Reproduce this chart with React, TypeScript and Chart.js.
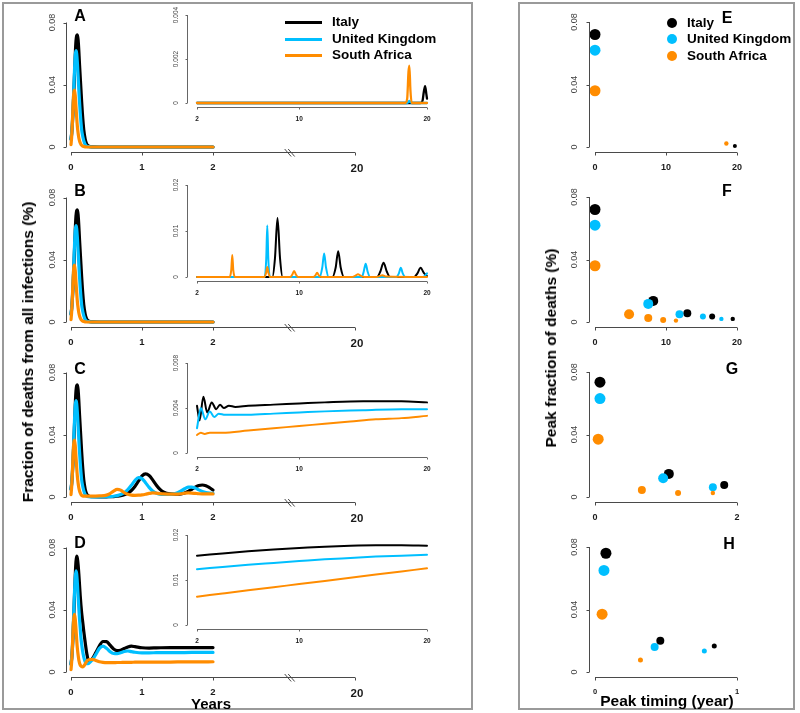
import React, { useEffect, useRef } from 'react';
import { Chart, registerables } from 'chart.js';

Chart.register(...registerables);

const FONT = '"Liberation Sans", Arial, Helvetica, sans-serif';

// ---------- categories / colours ----------
const COUNTRIES = ['Italy', 'United Kingdom', 'South Africa'];
const COLORS = ['#000000', '#00BFFF', '#FF8C00'];

// ---------- tick labels ----------
const MAIN_X_TICKS = [0, 1, 2];
const MAIN_Y_TICKS = [0, 0.04, 0.08];
const MAIN_FAR_LABEL = '20';
const INSET_X_TICKS = [2, 10, 20];
const INSET_A_Y_TICKS = [0, 0.002, 0.004];
const INSET_B_Y_TICKS = [0, 0.01, 0.02];
const INSET_C_Y_TICKS = [0, 0.004, 0.008];
const INSET_D_Y_TICKS = [0, 0.01, 0.02];
const PEAK_Y_TICKS = [0, 0.04, 0.08];
const PEAK_X_TICKS_EF = [0, 10, 20];
const PEAK_X_TICKS_G = [0, 2];
const PEAK_X_TICKS_H = [0, 1];

// ---------- main panels (years 0-2) ----------
const MAIN_AB_X = [0, 0.01, 0.02, 0.03, 0.04, 0.05, 0.06, 0.07, 0.08, 0.09, 0.1, 0.11, 0.12, 0.13, 0.14, 0.15, 0.16, 0.18, 0.2, 0.22, 0.25, 0.3, 0.4, 2];
const MAIN_AB_ITALY = [0.005, 0.009, 0.015, 0.024, 0.035, 0.047, 0.059, 0.068, 0.0715, 0.072, 0.069, 0.062, 0.053, 0.045, 0.037, 0.029, 0.022, 0.011, 0.005, 0.002, 0.0006, 0.0001, 0, 0];
const MAIN_AB_UK = [0.005, 0.009, 0.016, 0.026, 0.038, 0.05, 0.059, 0.062, 0.06, 0.054, 0.046, 0.037, 0.029, 0.022, 0.016, 0.011, 0.008, 0.004, 0.0016, 0.0006, 0.0002, 0, 0, 0];
const MAIN_AB_SA = [0.0015, 0.007, 0.017, 0.028, 0.035, 0.0365, 0.033, 0.026, 0.019, 0.013, 0.009, 0.006, 0.004, 0.0026, 0.0017, 0.0011, 0.0007, 0.0003, 0.0001, 0, 0, 0, 0, 0];

const MAIN_C_X = [0, 0.01, 0.02, 0.03, 0.04, 0.05, 0.06, 0.07, 0.08, 0.09, 0.1, 0.11, 0.12, 0.13, 0.14, 0.15, 0.16, 0.18, 0.2, 0.22, 0.25,
  0.3, 0.4, 0.5, 0.55, 0.6, 0.65, 0.7, 0.75, 0.8, 0.85, 0.9, 0.95, 1, 1.05, 1.1, 1.15, 1.2, 1.25, 1.3, 1.4, 1.5, 1.55, 1.6, 1.65, 1.7, 1.75, 1.8, 1.85, 1.9, 1.95, 2];
const MAIN_C_ITALY = [0.005, 0.009, 0.015, 0.024, 0.035, 0.047, 0.059, 0.068, 0.0715, 0.072, 0.069, 0.062, 0.053, 0.045, 0.037, 0.029, 0.022, 0.011, 0.005, 0.002, 0.0006,
  0.0002, 0.0001, 0.0001, 0.0002, 0.0003, 0.0005, 0.0008, 0.0014, 0.0025, 0.0042, 0.0068, 0.0102, 0.0135, 0.0148, 0.0138, 0.011, 0.0077, 0.005, 0.0033, 0.002, 0.0018, 0.002, 0.0026, 0.0036, 0.0049, 0.0063, 0.0074, 0.0077, 0.0072, 0.006, 0.0045];
const MAIN_C_UK = [0.005, 0.009, 0.016, 0.026, 0.038, 0.05, 0.059, 0.062, 0.06, 0.054, 0.046, 0.037, 0.029, 0.022, 0.016, 0.011, 0.008, 0.004, 0.0016, 0.0006, 0.0002,
  0.0001, 0.0001, 0.0002, 0.0003, 0.0005, 0.0009, 0.0016, 0.0028, 0.0047, 0.0075, 0.0106, 0.0125, 0.0118, 0.0092, 0.0062, 0.0039, 0.0025, 0.0018, 0.0016, 0.0017, 0.0028, 0.0039, 0.0053, 0.0063, 0.0064, 0.0057, 0.0046, 0.0036, 0.0029, 0.0025, 0.0023];
const MAIN_C_SA = [0.0015, 0.007, 0.017, 0.028, 0.035, 0.0365, 0.033, 0.026, 0.019, 0.013, 0.009, 0.006, 0.004, 0.0026, 0.0017, 0.0011, 0.0008, 0.0005, 0.0005, 0.0005, 0.0005,
  0.0005, 0.0007, 0.0012, 0.0022, 0.0038, 0.0049, 0.0044, 0.0028, 0.0017, 0.0012, 0.0011, 0.0012, 0.0014, 0.0018, 0.0023, 0.0026, 0.0025, 0.0022, 0.002, 0.0018, 0.0019, 0.0021, 0.0024, 0.0026, 0.0025, 0.0023, 0.0021, 0.002, 0.002, 0.002, 0.002];

const MAIN_D_X = [0, 0.01, 0.02, 0.03, 0.04, 0.05, 0.06, 0.07, 0.08, 0.09, 0.1, 0.11, 0.12, 0.13, 0.14, 0.15, 0.16, 0.18, 0.2, 0.22, 0.25,
  0.3, 0.35, 0.4, 0.45, 0.5, 0.55, 0.6, 0.65, 0.7, 0.75, 0.8, 0.85, 0.9, 1, 1.1, 1.2, 1.4, 1.6, 1.8, 2];
const MAIN_D_ITALY = [0.005, 0.009, 0.015, 0.025, 0.037, 0.05, 0.062, 0.071, 0.0745, 0.073, 0.069, 0.063, 0.056, 0.049, 0.043, 0.038, 0.034, 0.026, 0.019, 0.0125, 0.0068,
  0.0085, 0.0125, 0.0168, 0.0196, 0.0195, 0.0172, 0.0148, 0.0137, 0.014, 0.0151, 0.0161, 0.0166, 0.0163, 0.0156, 0.0154, 0.0155, 0.0157, 0.0157, 0.0157, 0.0157];
const MAIN_D_UK = [0.005, 0.009, 0.016, 0.027, 0.04, 0.052, 0.061, 0.065, 0.063, 0.057, 0.049, 0.041, 0.034, 0.028, 0.022, 0.018, 0.0145, 0.0095, 0.0065, 0.0053, 0.0056,
  0.0078, 0.0113, 0.0152, 0.0166, 0.0152, 0.0131, 0.0119, 0.0118, 0.0124, 0.0132, 0.0135, 0.0131, 0.0127, 0.0123, 0.0123, 0.0124, 0.0125, 0.0125, 0.0126, 0.0126];
const MAIN_D_SA = [0.0015, 0.007, 0.017, 0.028, 0.035, 0.037, 0.034, 0.028, 0.021, 0.015, 0.011, 0.0078, 0.0058, 0.0045, 0.0038, 0.0034, 0.0033, 0.0038, 0.0052, 0.0068, 0.0079,
  0.0081, 0.0074, 0.0066, 0.0062, 0.006, 0.006, 0.006, 0.0061, 0.0061, 0.0062, 0.0062, 0.0062, 0.0063, 0.0063, 0.0063, 0.0064, 0.0064, 0.0065, 0.0065, 0.0066];

// ---------- insets (years 2-20) ----------
const INSET_A_X = [2, 18.3, 18.45, 18.55, 18.62, 18.7, 18.8, 19.5, 19.65, 19.75, 19.85, 19.95, 20];
const INSET_A_ITALY = [0, 0, 0, 0, 0, 0, 0, 0, 0.0001, 0.0005, 0.00077, 0.0004, 0.0002];
const INSET_A_UK = [0, 0, 0, 0.00005, 0.0001, 0.00005, 0, 0, 0, 0, 0, 0, 0];
const INSET_A_SA = [0, 0, 0.0002, 0.0014, 0.0017, 0.0006, 0, 0, 0, 0, 0, 0, 0];

const INSET_B_ITALY_X = [2, 7.9, 8.1, 8.3, 8.5, 8.7, 12.6, 12.85, 13.05, 13.25, 13.5, 16.1, 16.35, 16.6, 16.85, 17.1, 19.0, 19.25, 19.5, 19.75, 20];
const INSET_B_ITALY = [0, 0, 0.004, 0.0128, 0.004, 0, 0, 0.002, 0.0056, 0.002, 0, 0, 0.0012, 0.0031, 0.0012, 0, 0, 0.0008, 0.002, 0.0009, 0.0002];
const INSET_B_UK_X = [2, 7.3, 7.42, 7.5, 7.58, 7.7, 11.6, 11.8, 11.95, 12.1, 12.3, 14.9, 15.05, 15.2, 15.35, 15.55, 17.6, 17.8, 17.95, 18.1, 18.3, 19.7, 19.85, 20];
const INSET_B_UK = [0, 0, 0.004, 0.0112, 0.004, 0, 0, 0.002, 0.0051, 0.002, 0, 0, 0.0012, 0.0029, 0.0012, 0, 0, 0.0008, 0.002, 0.0008, 0, 0, 0.0003, 0.0008];
const INSET_B_SA_X = [2, 4.55, 4.68, 4.76, 4.84, 4.97, 7.25, 7.4, 7.5, 7.6, 7.75, 9.3, 9.45, 9.6, 9.75, 9.9, 11.1, 11.25, 11.4, 11.55, 11.7, 14.1, 14.4, 14.6, 14.8, 15.1, 16.0, 16.3, 16.5, 16.8, 20];
const INSET_B_SA = [0, 0, 0.0015, 0.0048, 0.0015, 0, 0, 0.0008, 0.0022, 0.0008, 0, 0, 0.0005, 0.0013, 0.0005, 0, 0, 0.0003, 0.0009, 0.0003, 0, 0, 0.0003, 0.0006, 0.0003, 0, 0, 0.0002, 0.0004, 0.0001, 0];

const INSET_C_ITALY_X = [2, 2.2, 2.5, 2.8, 3.15, 3.5, 3.8, 4.1, 4.5, 5, 6, 8, 10, 12, 15, 18, 20];
const INSET_C_ITALY = [0.0042, 0.0029, 0.005, 0.0036, 0.0045, 0.0039, 0.0043, 0.004, 0.0042, 0.0041, 0.0042, 0.0043, 0.0044, 0.0045, 0.0046, 0.0046, 0.0045];
const INSET_C_UK_X = [2, 2.3, 2.65, 3.0, 3.35, 3.7, 4.2, 5, 6, 8, 10, 12, 15, 18, 20];
const INSET_C_UK = [0.0022, 0.004, 0.003, 0.0037, 0.0032, 0.0035, 0.0034, 0.0034, 0.0034, 0.0035, 0.0036, 0.0037, 0.0038, 0.0039, 0.0039];
const INSET_C_SA_X = [2, 2.3, 2.6, 3, 4, 6, 8, 10, 12, 14, 16, 18, 20];
const INSET_C_SA = [0.0016, 0.0018, 0.0017, 0.0018, 0.0018, 0.002, 0.0022, 0.0024, 0.0026, 0.0028, 0.003, 0.0031, 0.0033];

const INSET_D_X = [2, 4, 6, 8, 10, 12, 14, 16, 18, 20];
const INSET_D_ITALY = [0.0154, 0.0159, 0.0164, 0.0168, 0.0171, 0.0174, 0.0176, 0.0177, 0.0177, 0.0176];
const INSET_D_UK = [0.0124, 0.0129, 0.0134, 0.0138, 0.0142, 0.0146, 0.0149, 0.0152, 0.0154, 0.0156];
const INSET_D_SA = [0.0063, 0.007, 0.0077, 0.0084, 0.0091, 0.0098, 0.0105, 0.0112, 0.0119, 0.0126];

// ---------- peak scatter panels (timing, peak fraction, marker radius) ----------
const E_ITALY_X = [0, 19.7];
const E_ITALY_Y = [0.072, 0.0006];
const E_ITALY_R = [5.5, 2];
const E_UK_X = [0];
const E_UK_Y = [0.062];
const E_UK_R = [5.5];
const E_SA_X = [0, 18.5];
const E_SA_Y = [0.036, 0.0022];
const E_SA_R = [5.5, 2.2];

const F_ITALY_X = [0, 8.2, 13.0, 16.5, 19.4];
const F_ITALY_Y = [0.072, 0.0135, 0.0056, 0.0035, 0.002];
const F_ITALY_R = [5.5, 5, 4, 3, 2.2];
const F_UK_X = [0, 7.5, 11.9, 15.2, 17.8];
const F_UK_Y = [0.062, 0.0116, 0.005, 0.0036, 0.002];
const F_UK_R = [5.5, 5, 4, 3, 2.2];
const F_SA_X = [0, 4.8, 7.5, 9.6, 11.4];
const F_SA_Y = [0.036, 0.005, 0.0025, 0.0013, 0.0009];
const F_SA_R = [5.5, 5, 4, 3, 2.2];

const G_ITALY_X = [0.07, 1.04, 1.82];
const G_ITALY_Y = [0.0735, 0.0148, 0.0077];
const G_ITALY_R = [5.5, 5, 4];
const G_UK_X = [0.07, 0.96, 1.66];
const G_UK_Y = [0.063, 0.012, 0.0063];
const G_UK_R = [5.5, 5, 4];
const G_SA_X = [0.045, 0.66, 1.17, 1.66];
const G_SA_Y = [0.037, 0.0045, 0.0026, 0.0026];
const G_SA_R = [5.5, 4, 3, 2.2];

const H_ITALY_X = [0.077, 0.46, 0.84];
const H_ITALY_Y = [0.076, 0.02, 0.0167];
const H_ITALY_R = [5.5, 4, 2.5];
const H_UK_X = [0.063, 0.42, 0.77];
const H_UK_Y = [0.065, 0.016, 0.0135];
const H_UK_R = [5.5, 4, 2.5];
const H_SA_X = [0.05, 0.32];
const H_SA_Y = [0.037, 0.0077];
const H_SA_R = [5.5, 2.5];

// ---------- helpers ----------
type Box = { x: number; y: number; w: number; h: number };
type Area = { l: number; r: number; t: number; b: number };

const fmt = (v: number) => String(v);

function axesPlugin(o: any) {
  return {
    id: 'rAxes',
    afterDatasetsDraw(chart: any) {
      const { ctx, chartArea: ca } = chart;
      const xs = chart.scales.x;
      const ys = chart.scales.y;
      ctx.save();
      ctx.strokeStyle = o.color;
      ctx.lineWidth = o.width;
      const ay = Math.round(ca.bottom + o.xGap) + 0.5;
      const ax = Math.round(ca.left - o.yGap) + 0.5;
      ctx.beginPath();
      ctx.moveTo(xs.getPixelForValue(o.xFrom), ay);
      ctx.lineTo(xs.getPixelForValue(o.xTo), ay);
      const allX = o.extra ? [...o.xTicks, o.extra.v] : o.xTicks;
      allX.forEach((v: number) => {
        const p = Math.round(xs.getPixelForValue(v)) + 0.5;
        ctx.moveTo(p, ay);
        ctx.lineTo(p, ay + o.tick);
      });
      ctx.moveTo(ax, ys.getPixelForValue(o.yTicks[0]));
      ctx.lineTo(ax, ys.getPixelForValue(o.yTicks[o.yTicks.length - 1]));
      o.yTicks.forEach((v: number) => {
        const p = Math.round(ys.getPixelForValue(v)) + 0.5;
        ctx.moveTo(ax, p);
        ctx.lineTo(ax - o.tick, p);
      });
      ctx.stroke();
      if (o.breakAt !== undefined) {
        const bp = xs.getPixelForValue(o.breakAt);
        ctx.beginPath();
        ctx.moveTo(bp - 5, ay - 3.5);
        ctx.lineTo(bp + 1.5, ay + 4);
        ctx.moveTo(bp - 1.5, ay - 3.5);
        ctx.lineTo(bp + 5, ay + 4);
        ctx.stroke();
      }
      ctx.textAlign = 'center';
      ctx.textBaseline = 'alphabetic';
      ctx.fillStyle = o.xLabelColor;
      ctx.font = o.xFont;
      o.xTicks.forEach((v: number, i: number) => {
        ctx.fillText(o.xLabels[i], xs.getPixelForValue(v), ay + o.xBase);
      });
      if (o.extra) {
        ctx.font = o.extra.font;
        ctx.fillText(o.extra.label, xs.getPixelForValue(o.extra.v) + 2, ay + o.extra.base);
      }
      ctx.fillStyle = o.yLabelColor;
      ctx.font = o.yFont;
      o.yTicks.forEach((v: number, i: number) => {
        ctx.save();
        ctx.translate(ax - o.yBase, ys.getPixelForValue(v));
        ctx.rotate(-Math.PI / 2);
        ctx.fillText(o.yLabels[i], 0, 0);
        ctx.restore();
      });
      ctx.restore();
    },
  };
}

function lineDs(i: number, xs: number[], ys: number[], width: number) {
  return {
    label: COUNTRIES[i],
    data: xs.map((x, k) => ({ x, y: ys[k] })),
    borderColor: COLORS[i],
    backgroundColor: COLORS[i],
    borderWidth: width,
    pointRadius: 0,
    cubicInterpolationMode: 'monotone',
    borderJoinStyle: 'round',
    borderCapStyle: 'round',
    fill: false,
    clip: false,
    order: 3 - i,
  };
}

function dotDs(i: number, xs: number[], ys: number[], rs: number[]) {
  return {
    label: COUNTRIES[i],
    data: xs.map((x, k) => ({ x, y: ys[k] })),
    pointRadius: rs,
    pointBackgroundColor: COLORS[i],
    pointBorderWidth: 0,
    borderColor: COLORS[i],
    backgroundColor: COLORS[i],
    showLine: false,
    clip: false,
    order: 3 - i,
  };
}

function buildConfig(type: string, datasets: any[], box: Box, area: Area, xr: number[], yr: number[], axes: any) {
  return {
    type,
    data: { datasets },
    options: {
      responsive: false,
      animation: false,
      events: [],
      layout: {
        padding: { left: area.l - box.x, right: box.x + box.w - area.r, top: area.t - box.y, bottom: box.y + box.h - area.b },
      },
      scales: {
        x: { type: 'linear', min: xr[0], max: xr[1], display: false },
        y: { type: 'linear', min: yr[0], max: yr[1], display: false },
      },
      plugins: { legend: { display: false }, tooltip: { enabled: false } },
    },
    plugins: [axesPlugin(axes)],
  };
}

function ChartBox({ box, config }: { box: Box; config: () => any }) {
  const ref = useRef<HTMLCanvasElement>(null);
  useEffect(() => {
    const chart = new Chart(ref.current as HTMLCanvasElement, config() as any);
    return () => chart.destroy();
  }, []);
  return (
    <canvas
      ref={ref}
      width={box.w}
      height={box.h}
      style={{ position: 'absolute', left: box.x, top: box.y, width: box.w, height: box.h }}
    />
  );
}

// ---------- layout ----------
const ROW_TOP = [0, 175, 350, 525];
const LETTERS_LEFT = ['A', 'B', 'C', 'D'];
const LETTERS_RIGHT = ['E', 'F', 'G', 'H'];
const LETTER_LEFT_Y = [16, 191, 369, 543];
const LETTER_RIGHT_POS = [[727, 18], [727, 191], [732, 369], [729, 544]];
const INSET_TB = [[15, 103], [10, 102], [13, 103], [10, 100]];

const AXIS_COLOR = '#4a4a4a';

function mainPanel(row: number, xs: number[], it: number[], uk: number[], sa: number[]) {
  const T = ROW_TOP[row];
  const box = { x: 8, y: T, w: 460, h: 175 };
  const area = { l: 71, r: 213, t: T + 22.5, b: T + 147 };
  const axes = {
    color: AXIS_COLOR, width: 1, xLabelColor: '#1a1a1a', yLabelColor: '#444', tick: 3,
    xFrom: 0, xTo: 4, xGap: 5, xTicks: MAIN_X_TICKS, xLabels: MAIN_X_TICKS.map(fmt),
    xFont: `bold 9.5px ${FONT}`, xBase: 17,
    extra: { v: 4, label: MAIN_FAR_LABEL, font: `bold 11.5px ${FONT}`, base: 19 },
    breakAt: 3.08,
    yTicks: MAIN_Y_TICKS, yLabels: MAIN_Y_TICKS.map(fmt), yFont: `9px ${FONT}`, yGap: 5, yBase: 12,
  };
  return () => buildConfig('line', [lineDs(0, xs, it, 3.2), lineDs(1, xs, uk, 3.2), lineDs(2, xs, sa, 3.2)], box, area, [0, 2], [0, 0.08], axes);
}

function insetPanel(row: number, yTicks: number[], series: number[][][], width: number) {
  const T = ROW_TOP[row];
  const [it, ib] = INSET_TB[row];
  const box = { x: 160, y: T, w: 300, h: 135 };
  const area = { l: 197, r: 427, t: T + it, b: T + ib };
  const axes = {
    color: '#666', width: 1, xLabelColor: '#1a1a1a', yLabelColor: '#444', tick: 2,
    xFrom: 2, xTo: 20, xGap: 4, xTicks: INSET_X_TICKS, xLabels: INSET_X_TICKS.map(fmt),
    xFont: `bold 6.5px ${FONT}`, xBase: 13,
    yTicks, yLabels: yTicks.map(fmt), yFont: `6.5px ${FONT}`, yGap: 10, yBase: 10,
  };
  const ds = series.map((s, i) => lineDs(i, s[0], s[1], width));
  return () => buildConfig('line', ds, box, area, [2, 20], [0, yTicks[yTicks.length - 1]], axes);
}

function peakPanel(row: number, xTicks: number[], series: number[][][], small: boolean) {
  const T = ROW_TOP[row];
  const box = { x: 530, y: T, w: 262, h: 175 };
  const area = { l: 595, r: 737, t: T + 22, b: T + 147 };
  const axes = {
    color: AXIS_COLOR, width: 1, xLabelColor: '#1a1a1a', yLabelColor: '#444', tick: 3,
    xFrom: xTicks[0], xTo: xTicks[xTicks.length - 1], xGap: 5, xTicks, xLabels: xTicks.map(fmt),
    xFont: small ? `bold 7.5px ${FONT}` : `bold 9px ${FONT}`, xBase: small ? 16 : 17,
    yTicks: PEAK_Y_TICKS, yLabels: PEAK_Y_TICKS.map(fmt), yFont: `9px ${FONT}`, yGap: 6, yBase: 13,
  };
  const ds = series.map((s, i) => dotDs(i, s[0], s[1], s[2]));
  return () => buildConfig('scatter', ds, box, area, [xTicks[0], xTicks[xTicks.length - 1]], [0, 0.08], axes);
}

const abs = (x: number, y: number, extra: any = {}) => ({
  position: 'absolute' as const, left: x, top: y, transform: 'translate(-50%, -50%)', whiteSpace: 'nowrap' as const, lineHeight: 1, ...extra,
});

export default function App() {
  const mains = [
    mainPanel(0, MAIN_AB_X, MAIN_AB_ITALY, MAIN_AB_UK, MAIN_AB_SA),
    mainPanel(1, MAIN_AB_X, MAIN_AB_ITALY, MAIN_AB_UK, MAIN_AB_SA),
    mainPanel(2, MAIN_C_X, MAIN_C_ITALY, MAIN_C_UK, MAIN_C_SA),
    mainPanel(3, MAIN_D_X, MAIN_D_ITALY, MAIN_D_UK, MAIN_D_SA),
  ];
  const insets = [
    insetPanel(0, INSET_A_Y_TICKS, [[INSET_A_X, INSET_A_ITALY], [INSET_A_X, INSET_A_UK], [INSET_A_X, INSET_A_SA]], 2.3),
    insetPanel(1, INSET_B_Y_TICKS, [[INSET_B_ITALY_X, INSET_B_ITALY], [INSET_B_UK_X, INSET_B_UK], [INSET_B_SA_X, INSET_B_SA]], 2),
    insetPanel(2, INSET_C_Y_TICKS, [[INSET_C_ITALY_X, INSET_C_ITALY], [INSET_C_UK_X, INSET_C_UK], [INSET_C_SA_X, INSET_C_SA]], 2),
    insetPanel(3, INSET_D_Y_TICKS, [[INSET_D_X, INSET_D_ITALY], [INSET_D_X, INSET_D_UK], [INSET_D_X, INSET_D_SA]], 2),
  ];
  const peaks = [
    peakPanel(0, PEAK_X_TICKS_EF, [[E_ITALY_X, E_ITALY_Y, E_ITALY_R], [E_UK_X, E_UK_Y, E_UK_R], [E_SA_X, E_SA_Y, E_SA_R]], false),
    peakPanel(1, PEAK_X_TICKS_EF, [[F_ITALY_X, F_ITALY_Y, F_ITALY_R], [F_UK_X, F_UK_Y, F_UK_R], [F_SA_X, F_SA_Y, F_SA_R]], false),
    peakPanel(2, PEAK_X_TICKS_G, [[G_ITALY_X, G_ITALY_Y, G_ITALY_R], [G_UK_X, G_UK_Y, G_UK_R], [G_SA_X, G_SA_Y, G_SA_R]], false),
    peakPanel(3, PEAK_X_TICKS_H, [[H_ITALY_X, H_ITALY_Y, H_ITALY_R], [H_UK_X, H_UK_Y, H_UK_R], [H_SA_X, H_SA_Y, H_SA_R]], true),
  ];
  const legendY = [22, 39, 55];
  const legendDotY = [23, 39, 56];
  const letterFont = `bold 16px ${FONT}`;
  const legendFont = `bold 13.5px ${FONT}`;
  const titleFont = `bold 15.5px ${FONT}`;

  return (
    <div style={{ position: 'absolute', left: 0, top: 0, width: 800, height: 713, background: '#fff', overflow: 'hidden', fontFamily: FONT, color: '#000' }}>
      <div style={{ position: 'absolute', left: 2, top: 2, width: 471, height: 708, border: '2px solid #9a9a9a', boxSizing: 'border-box' }} />
      <div style={{ position: 'absolute', left: 518, top: 2, width: 277, height: 708, border: '2px solid #9a9a9a', boxSizing: 'border-box' }} />

      {mains.map((cfg, i) => (
        <ChartBox key={'m' + i} box={{ x: 8, y: ROW_TOP[i], w: 460, h: 175 }} config={cfg} />
      ))}
      {insets.map((cfg, i) => (
        <ChartBox key={'i' + i} box={{ x: 160, y: ROW_TOP[i], w: 300, h: 135 }} config={cfg} />
      ))}
      {peaks.map((cfg, i) => (
        <ChartBox key={'p' + i} box={{ x: 530, y: ROW_TOP[i], w: 262, h: 175 }} config={cfg} />
      ))}

      {LETTERS_LEFT.map((l, i) => (
        <div key={l} style={abs(80, LETTER_LEFT_Y[i], { font: letterFont })}>{l}</div>
      ))}
      {LETTERS_RIGHT.map((l, i) => (
        <div key={l} style={abs(LETTER_RIGHT_POS[i][0], LETTER_RIGHT_POS[i][1], { font: letterFont })}>{l}</div>
      ))}

      {COUNTRIES.map((c, i) => (
        <React.Fragment key={'ll' + c}>
          <div style={{ position: 'absolute', left: 285, top: legendY[i] - 1.5, width: 37, height: 3, background: COLORS[i] }} />
          <div style={{ position: 'absolute', left: 332, top: legendY[i], transform: 'translateY(-50%)', font: legendFont, lineHeight: 1, whiteSpace: 'nowrap' }}>{c}</div>
        </React.Fragment>
      ))}
      {COUNTRIES.map((c, i) => (
        <React.Fragment key={'rl' + c}>
          <div style={{ position: 'absolute', left: 667, top: legendDotY[i] - 5, width: 10, height: 10, borderRadius: '50%', background: COLORS[i] }} />
          <div style={{ position: 'absolute', left: 687, top: legendDotY[i], transform: 'translateY(-50%)', font: legendFont, lineHeight: 1, whiteSpace: 'nowrap' }}>{c}</div>
        </React.Fragment>
      ))}

      <div style={abs(28, 352, { font: titleFont, transform: 'translate(-50%, -50%) rotate(-90deg)' })}>Fraction of deaths from all infections (%)</div>
      <div style={abs(211, 703, { font: `bold 15px ${FONT}` })}>Years</div>
      <div style={abs(551, 348, { font: titleFont, transform: 'translate(-50%, -50%) rotate(-90deg)' })}>Peak fraction of deaths (%)</div>
      <div style={abs(667, 701, { font: titleFont })}>Peak timing (year)</div>
    </div>
  );
}
